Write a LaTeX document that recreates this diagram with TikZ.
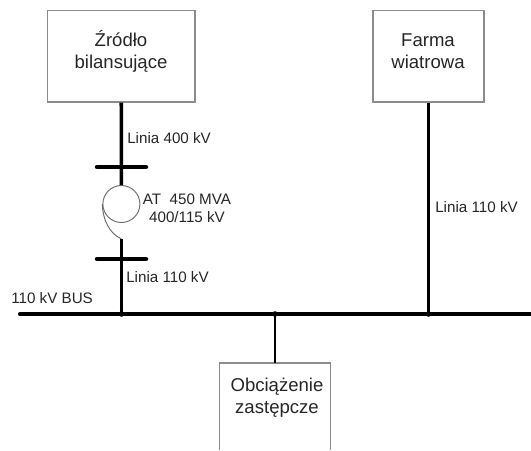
\documentclass[tikz,border=0pt]{standalone}
\usepackage{fontspec}
\setmainfont{Liberation Sans}
\usepackage{xcolor}
\usepackage{tikz}
\usetikzlibrary{positioning, calc}
\definecolor{BoxLine}{HTML}{8C8C8C}
\definecolor{CoilLine}{HTML}{707070}
\definecolor{TextDark}{HTML}{262626}
\tikzset{
  busbox/.style={draw=BoxLine, line width=0.9pt, minimum height=2.2875cm, inner sep=0pt},
  boxtext/.style={align=center, text=TextDark, font=\fontsize{13.2}{15.6}\selectfont},
  linelab/.style={anchor=west, inner sep=0pt, text=TextDark, font=\fontsize{10.8}{13}\selectfont},
  feeder/.style={line width=2.5pt, black},
  busbar/.style={line width=2.9pt, black, line cap=round},
  shortbar/.style={line width=3.2pt, black, line cap=round},
  coil/.style={draw=CoilLine, line width=0.7pt}
}
\begin{document}
\begin{tikzpicture}[x=0.025cm, y=-0.025cm]
  \useasboundingbox (0,0) rectangle (531,450);
  % boxes
  \node[busbox, minimum width=3.6875cm] (source) at (121.25,56.25) {};
  \node[boxtext] (sourcetxt) at (121,51.5) {Źródło\\bilansujące};
  \node[busbox, minimum width=2.775cm] (farm) at (428.5,56.25) {};
  \node[boxtext] (farmtxt) at (428,51.5) {Farma\\wiatrowa};
  % load box has no bottom edge
  \draw[BoxLine, line width=0.9pt] (219.5,450) -- (219.5,363) -- (330.8,363) -- (330.8,450);
  \coordinate (loadtop) at (275,363);
  \node[boxtext] (loadtxt) at (277,398) {Obciążenie\\zastępcze};
  % 110 kV bus
  \coordinate (busL) at (20,314);
  \coordinate (busR) at (535,314);
  \draw[busbar] (busL) -- (busR);
  \foreach \n/\x in {jA/121.5,jB/275,jC/428.5}{
     \coordinate (\n) at (\x,314);
     \fill (\n) circle (2.8);}
  % autotransformer
  \node[coil, circle, minimum size=0.925cm, inner sep=0pt] (atcore) at (121.4,204) {};
  \coordinate (attail) at (121.5,239);
  \draw[coil] (atcore.west) .. controls (102.5,220) and (110,234) .. (attail);
  % feeders
  \draw[feeder] (source.south) -- (atcore.north);
  \draw[feeder] (attail) -- (jA);
  \draw[feeder] (farm.south) -- (jC);
  \draw[feeder, line width=2.1pt] (jB) -- (loadtop);
  % short bars
  \foreach \n/\y in {barA/167,barB/259}{
     \coordinate (\n L) at (97,\y); \coordinate (\n R) at (146,\y);
     \draw[shortbar] (\n L) -- (\n R);}
  % labels
  \node[linelab] (lab400) at (127,138) {Linia 400 kV};
  \node[linelab, align=center, anchor=center] (labat) at (187,208) {AT\ \ 450 MVA\\400/115 kV};
  \node[linelab] (lab110a) at (126,277) {Linia 110 kV};
  \node[linelab] (lab110b) at (435,207) {Linia 110 kV};
  \node[linelab] (labbus) at (11,298) {110 kV BUS};
\end{tikzpicture}
\end{document}
